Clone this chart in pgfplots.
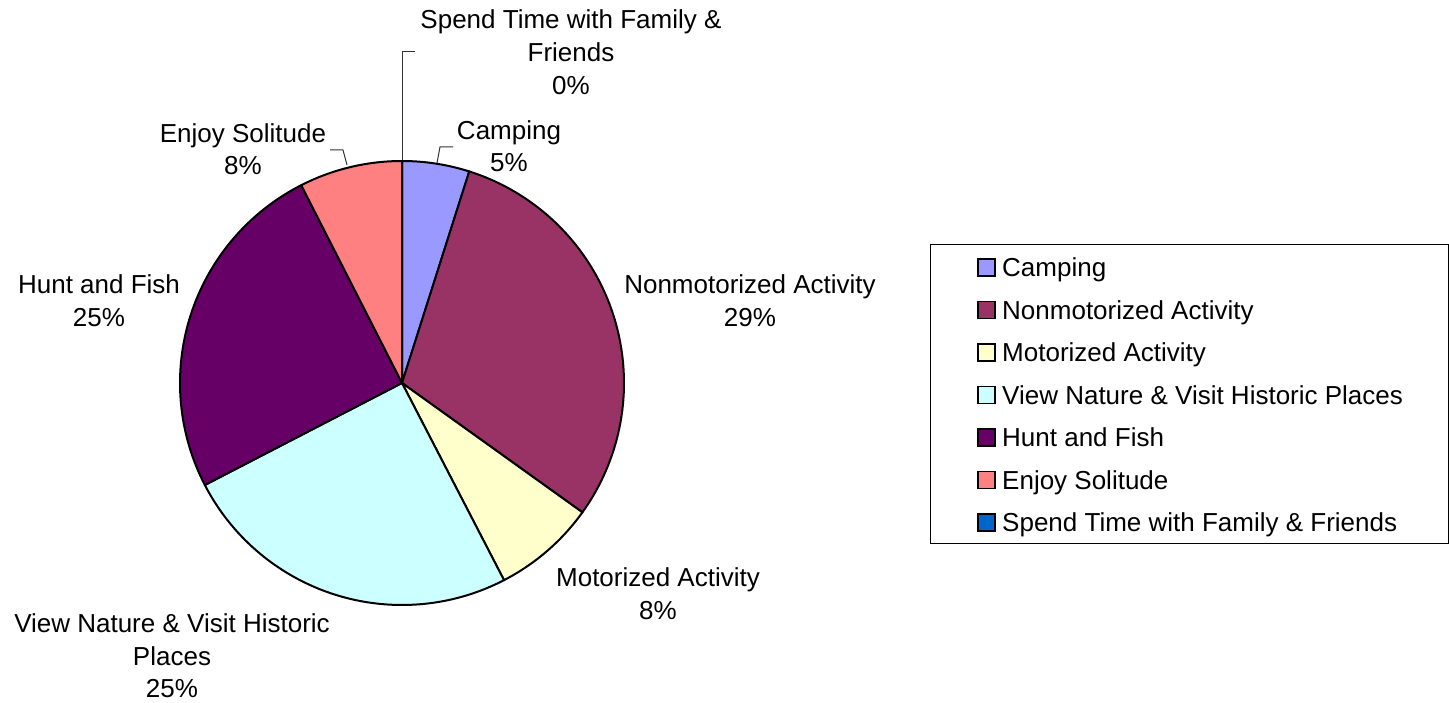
\documentclass[border=0pt]{standalone}
\usepackage{fontspec}
\setmainfont{Liberation Sans}
\usepackage{pgfplots}
\usepackage{pgfplotstable}
\pgfplotsset{compat=1.18}
\definecolor{campC}{HTML}{9999FF}
\definecolor{nonC}{HTML}{993366}
\definecolor{motC}{HTML}{FFFFCC}
\definecolor{viewC}{HTML}{CCFFFF}
\definecolor{huntC}{HTML}{660066}
\definecolor{solC}{HTML}{FF8080}
\definecolor{famC}{HTML}{0066CC}
% shares in percent, clockwise from 12 o'clock
\pgfplotstableread{
idx value
0 4.9
1 30.0
2 7.5
3 25.0
4 25.1
5 7.5
6 0.0
}\piedata
\newcommand\lab[3]{\node[anchor=base, inner sep=0pt] at (axis cs:#1,702-#2) {#3};}
\newcommand\pieslice[3]{\filldraw[fill=#3, draw=black, line width=2pt, line join=round]
  (axis cs:402,319) -- ([shift={(#1:222pt)}]axis cs:402,319) arc[start angle=#1, end angle=#2, radius=222pt] -- cycle;}
\newcommand\legrow[3]{%
  \filldraw[fill=#2, draw=black, line width=1.5pt] (axis cs:978,702-259-42.5*#1) rectangle (axis cs:995,702-276-42.5*#1);
  \node[anchor=base west, inner sep=0pt] at (axis cs:1002,702-277-42.5*#1) {#3};}
\begin{document}
\fontsize{26}{33}\selectfont
\begin{tikzpicture}
\pgfplotstablegetelem{0}{value}\of\piedata \pgfmathsetmacro\angA{90-3.6*\pgfplotsretval}
\pgfplotstablegetelem{1}{value}\of\piedata \pgfmathsetmacro\angB{\angA-3.6*\pgfplotsretval}
\pgfplotstablegetelem{2}{value}\of\piedata \pgfmathsetmacro\angC{\angB-3.6*\pgfplotsretval}
\pgfplotstablegetelem{3}{value}\of\piedata \pgfmathsetmacro\angD{\angC-3.6*\pgfplotsretval}
\pgfplotstablegetelem{4}{value}\of\piedata \pgfmathsetmacro\angE{\angD-3.6*\pgfplotsretval}
\pgfplotstablegetelem{5}{value}\of\piedata \pgfmathsetmacro\angF{\angE-3.6*\pgfplotsretval}
\pgfplotstablegetelem{6}{value}\of\piedata \pgfmathsetmacro\angG{\angF-3.6*\pgfplotsretval}
\begin{axis}[
  width=1449pt, height=702pt, scale only axis,
  xmin=0, xmax=1449, ymin=0, ymax=702,
  hide axis, clip=false,
]
\addplot[draw=none] coordinates {(0,0) (1449,702)};
\pieslice{90}{\angA}{campC}
\pieslice{\angA}{\angB}{nonC}
\pieslice{\angB}{\angC}{motC}
\pieslice{\angC}{\angD}{viewC}
\pieslice{\angD}{\angE}{huntC}
\pieslice{\angE}{\angF}{solC}
\pieslice{\angF}{\angG}{famC}
% leader lines
\draw[line width=1pt, black!80] (axis cs:402,542) -- (axis cs:402,650) -- (axis cs:415,650);
\draw[line width=1pt, black!80] (axis cs:437,539) -- (axis cs:440,555) -- (axis cs:453,555);
\draw[line width=1pt, black!80] (axis cs:347,537) -- (axis cs:343,552) -- (axis cs:330,552);
% data labels
\lab{571}{29}{Spend Time with Family \&}
\lab{571}{62}{Friends}
\lab{571}{95}{0\%}
\lab{509}{140}{Camping}
\lab{509}{172}{5\%}
\lab{243}{143}{Enjoy Solitude}
\lab{243}{175}{8\%}
\lab{99}{294}{Hunt and Fish}
\lab{99}{327}{25\%}
\lab{750}{294}{Nonmotorized Activity}
\lab{750}{327}{29\%}
\lab{658}{587}{Motorized Activity}
\lab{658}{620}{8\%}
\lab{172}{632}{View Nature \& Visit Historic}
\lab{172}{665}{Places}
\lab{172}{697}{25\%}
% legend
\draw[line width=1pt] (axis cs:930,702-245) rectangle (axis cs:1448,702-544);
\legrow{0}{campC}{Camping}
\legrow{1}{nonC}{Nonmotorized Activity}
\legrow{2}{motC}{Motorized Activity}
\legrow{3}{viewC}{View Nature \& Visit Historic Places}
\legrow{4}{huntC}{Hunt and Fish}
\legrow{5}{solC}{Enjoy Solitude}
\legrow{6}{famC}{Spend Time with Family \& Friends}
\end{axis}
\end{tikzpicture}
\end{document}
